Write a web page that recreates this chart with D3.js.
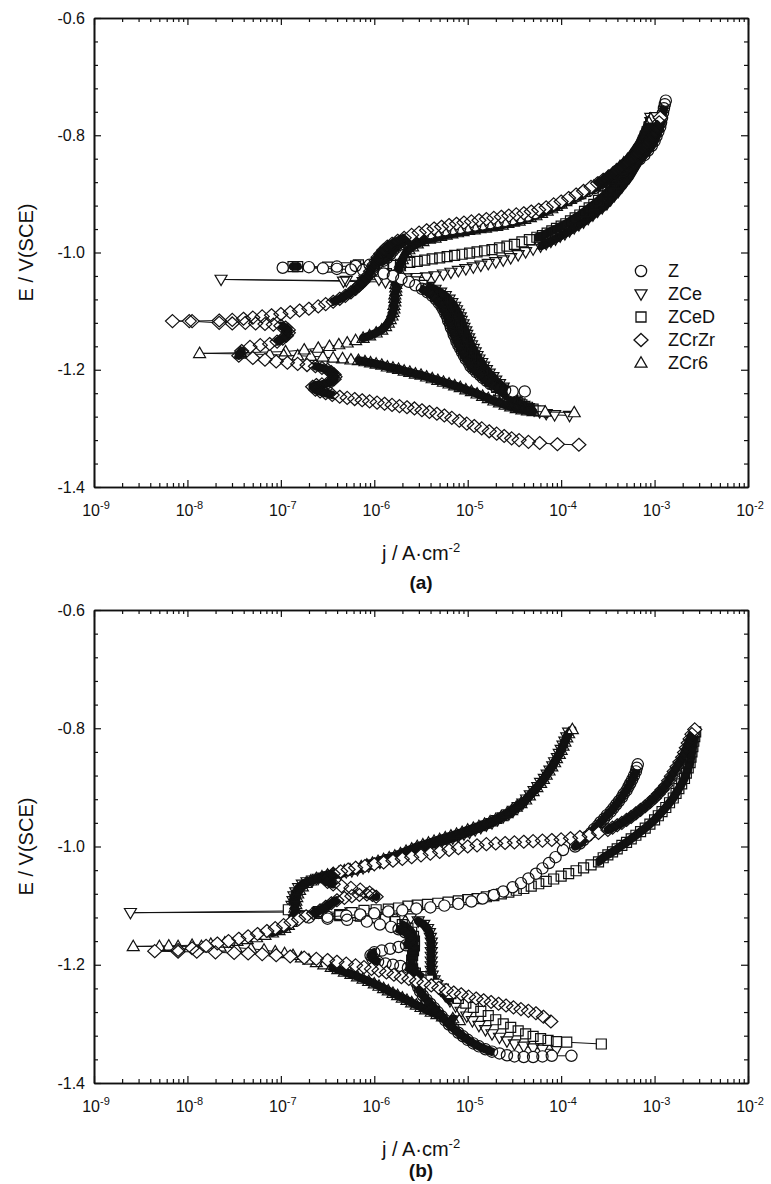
<!DOCTYPE html>
<html>
<head>
<meta charset="utf-8">
<script src="https://cdn.jsdelivr.net/npm/d3@7"></script>
<style>
  body { margin: 0; background: #fff; }
  text { font-family: "Liberation Sans", Arial, sans-serif; fill: #111; }
</style>
</head>
<body>
<svg id="chart" width="771" height="1184"></svg>
<script>
// Potentiodynamic polarization curves, panels (a) and (b).
// Each point is [log10 j (A/cm2), E (V vs SCE)].

const seriesNames = ["Z", "ZCe", "ZCeD", "ZCrZr", "ZCr6"];
const xMajorTicks = [1e-9, 1e-8, 1e-7, 1e-6, 1e-5, 1e-4, 1e-3, 1e-2];
const xTickExponents = ["-9", "-8", "-7", "-6", "-5", "-4", "-3", "-2"];
const yMajorTicks = [-1.4, -1.2, -1.0, -0.8, -0.6];
const yMinorTicks = [-1.36, -1.32, -1.28, -1.24, -1.16, -1.12, -1.08, -1.04,
                     -0.96, -0.92, -0.88, -0.84, -0.76, -0.72, -0.68, -0.64];

// ---- panel (a)
const aZ = [[-4.39,-1.237],[-4.52,-1.237],[-4.6,-1.235],[-4.66,-1.232],[-4.71,-1.228],[-4.76,-1.224],[-4.8,-1.219],
  [-4.84,-1.214],[-4.87,-1.209],[-4.91,-1.204],[-4.94,-1.199],[-4.97,-1.194],[-4.99,-1.188],[-5.02,-1.182],[-5.04,-1.176],
  [-5.06,-1.17],[-5.08,-1.164],[-5.1,-1.158],[-5.12,-1.152],[-5.13,-1.146],[-5.15,-1.14],[-5.16,-1.134],[-5.18,-1.128],
  [-5.19,-1.122],[-5.21,-1.116],[-5.22,-1.11],[-5.24,-1.104],[-5.26,-1.098],[-5.28,-1.092],[-5.31,-1.086],[-5.34,-1.08],
  [-5.38,-1.074],[-5.43,-1.068],[-5.49,-1.062],[-5.56,-1.056],[-5.63,-1.05],[-5.71,-1.045],[-5.8,-1.04],[-5.9,-1.036],
  [-6.02,-1.032],[-6.12,-1.03],[-6.25,-1.029],[-6.4,-1.028],[-6.55,-1.027],[-6.98,-1.026],[-6.7,-1.025],[-6.4,-1.024],
  [-6.2,-1.023],[-6.05,-1.021],[-5.96,-1.018],[-5.9,-1.014],[-5.86,-1.009],[-5.83,-1.003],[-5.8,-0.997],[-5.77,-0.992],
  [-5.73,-0.987],[-5.68,-0.982],[-5.62,-0.977],[-5.55,-0.973],[-5.48,-0.97],[-5.4,-0.967],[-5.32,-0.964],[-5.24,-0.962],
  [-5.16,-0.96],[-5.08,-0.958],[-5.0,-0.956],[-4.92,-0.954],[-4.84,-0.952],[-4.76,-0.95],[-4.68,-0.948],[-4.6,-0.946],
  [-4.52,-0.943],[-4.44,-0.94],[-4.36,-0.937],[-4.28,-0.933],[-4.2,-0.928],[-4.13,-0.924],[-4.06,-0.92],[-3.99,-0.915],
  [-3.92,-0.91],[-3.85,-0.905],[-3.78,-0.9],[-3.71,-0.895],[-3.64,-0.89],[-3.57,-0.885],[-3.51,-0.879],[-3.45,-0.873],
  [-3.39,-0.867],[-3.33,-0.861],[-3.27,-0.855],[-3.21,-0.848],[-3.16,-0.841],[-3.11,-0.834],[-3.07,-0.826],[-3.03,-0.818],
  [-3.0,-0.81],[-2.98,-0.802],[-2.96,-0.794],[-2.94,-0.786],[-2.93,-0.778],[-2.92,-0.77],[-2.91,-0.762],[-2.9,-0.754],
  [-2.89,-0.747],[-2.88,-0.741]];

const aZCe = [[-3.91,-1.278],[-4.07,-1.277],[-4.16,-1.275],[-4.23,-1.272],[-4.29,-1.269],[-4.35,-1.265],[-4.4,-1.261],
  [-4.45,-1.257],[-4.49,-1.252],[-4.53,-1.247],[-4.56,-1.242],[-4.59,-1.236],[-4.62,-1.23],[-4.66,-1.224],[-4.7,-1.218],
  [-4.73,-1.212],[-4.77,-1.206],[-4.8,-1.2],[-4.83,-1.194],[-4.85,-1.188],[-4.88,-1.182],[-4.9,-1.176],[-4.92,-1.17],
  [-4.94,-1.164],[-4.96,-1.158],[-4.98,-1.152],[-4.99,-1.146],[-5.01,-1.14],[-5.02,-1.134],[-5.04,-1.128],[-5.05,-1.122],
  [-5.07,-1.116],[-5.08,-1.11],[-5.1,-1.104],[-5.12,-1.098],[-5.14,-1.092],[-5.17,-1.086],[-5.2,-1.08],[-5.24,-1.074],
  [-5.29,-1.068],[-5.35,-1.063],[-5.42,-1.058],[-5.5,-1.055],[-5.6,-1.052],[-5.72,-1.051],[-5.88,-1.05],[-6.12,-1.05],
  [-6.33,-1.049],[-7.64,-1.046],[-6.3,-1.048],[-6.1,-1.047],[-5.95,-1.046],[-5.8,-1.045],[-5.66,-1.044],[-5.55,-1.043],
  [-5.44,-1.042],[-5.35,-1.04],[-5.26,-1.037],[-5.18,-1.034],[-5.1,-1.031],[-5.02,-1.028],[-4.94,-1.025],[-4.86,-1.022],
  [-4.78,-1.019],[-4.7,-1.016],[-4.62,-1.013],[-4.54,-1.009],[-4.46,-1.004],[-4.38,-0.999],[-4.3,-0.994],[-4.22,-0.989],
  [-4.16,-0.985],[-4.11,-0.981],[-4.06,-0.977],[-4.01,-0.972],[-3.96,-0.968],[-3.91,-0.963],[-3.86,-0.958],[-3.81,-0.953],
  [-3.76,-0.948],[-3.71,-0.942],[-3.66,-0.936],[-3.61,-0.93],[-3.56,-0.924],[-3.51,-0.917],[-3.47,-0.91],[-3.43,-0.903],
  [-3.39,-0.896],[-3.35,-0.888],[-3.31,-0.88],[-3.27,-0.872],[-3.24,-0.864],[-3.21,-0.856],[-3.18,-0.848],[-3.15,-0.84],
  [-3.13,-0.832],[-3.11,-0.824],[-3.09,-0.816],[-3.07,-0.808],[-3.06,-0.8],[-3.05,-0.792],[-3.04,-0.784],[-3.04,-0.777],
  [-3.04,-0.77]];

const aZCeD = [[-4.23,-1.27],[-4.3,-1.267],[-4.36,-1.264],[-4.42,-1.26],[-4.47,-1.256],[-4.52,-1.251],[-4.57,-1.246],
  [-4.61,-1.241],[-4.65,-1.236],[-4.69,-1.23],[-4.73,-1.224],[-4.77,-1.218],[-4.8,-1.212],[-4.84,-1.206],[-4.87,-1.2],
  [-4.9,-1.194],[-4.92,-1.188],[-4.95,-1.182],[-4.97,-1.176],[-4.99,-1.17],[-5.01,-1.164],[-5.03,-1.158],[-5.05,-1.152],
  [-5.06,-1.146],[-5.08,-1.14],[-5.09,-1.134],[-5.11,-1.128],[-5.12,-1.122],[-5.14,-1.116],[-5.15,-1.11],[-5.17,-1.104],
  [-5.19,-1.098],[-5.21,-1.092],[-5.24,-1.086],[-5.27,-1.08],[-5.31,-1.074],[-5.36,-1.068],[-5.42,-1.062],[-5.49,-1.056],
  [-5.57,-1.05],[-5.66,-1.045],[-5.76,-1.04],[-5.87,-1.036],[-6.0,-1.032],[-6.09,-1.028],[-6.17,-1.021],[-6.3,-1.026],
  [-6.82,-1.024],[-6.87,-1.024],[-6.5,-1.025],[-6.2,-1.023],[-6.0,-1.023],[-5.9,-1.022],[-5.8,-1.022],[-5.72,-1.02],
  [-5.62,-1.017],[-5.54,-1.015],[-5.46,-1.013],[-5.38,-1.011],[-5.3,-1.009],[-5.22,-1.007],[-5.14,-1.005],[-5.06,-1.003],
  [-4.98,-1.001],[-4.9,-0.999],[-4.82,-0.997],[-4.74,-0.995],[-4.66,-0.992],[-4.58,-0.989],[-4.5,-0.986],[-4.42,-0.982],
  [-4.34,-0.978],[-4.26,-0.974],[-4.2,-0.971],[-4.15,-0.967],[-4.1,-0.963],[-4.05,-0.959],[-4.0,-0.955],[-3.95,-0.951],
  [-3.9,-0.946],[-3.85,-0.941],[-3.8,-0.936],[-3.75,-0.93],[-3.7,-0.924],[-3.65,-0.918],[-3.6,-0.911],[-3.55,-0.904],
  [-3.5,-0.897],[-3.46,-0.89],[-3.42,-0.882],[-3.38,-0.874],[-3.34,-0.866],[-3.3,-0.858],[-3.26,-0.85],[-3.23,-0.842],
  [-3.2,-0.834],[-3.17,-0.826],[-3.14,-0.818],[-3.12,-0.81],[-3.1,-0.802],[-3.08,-0.794],[-3.06,-0.786],[-3.04,-0.778],
  [-3.0,-0.77]];

const aZCrZr = [[-3.81,-1.328],[-4.04,-1.327],[-4.23,-1.325],[-4.35,-1.323],[-4.45,-1.32],[-4.53,-1.317],[-4.61,-1.313],
  [-4.69,-1.309],[-4.77,-1.305],[-4.85,-1.3],[-4.93,-1.296],[-5.01,-1.292],[-5.09,-1.287],[-5.17,-1.282],[-5.25,-1.278],
  [-5.33,-1.275],[-5.41,-1.272],[-5.49,-1.269],[-5.57,-1.266],[-5.65,-1.264],[-5.73,-1.262],[-5.81,-1.26],[-5.89,-1.258],
  [-5.97,-1.256],[-6.05,-1.254],[-6.13,-1.252],[-6.21,-1.25],[-6.29,-1.248],[-6.37,-1.246],[-6.45,-1.243],[-6.52,-1.24],
  [-6.58,-1.237],[-6.63,-1.234],[-6.66,-1.229],[-6.62,-1.226],[-6.56,-1.225],[-6.5,-1.223],[-6.46,-1.22],[-6.43,-1.216],
  [-6.42,-1.212],[-6.43,-1.208],[-6.46,-1.204],[-6.5,-1.2],[-6.56,-1.197],[-6.63,-1.194],[-6.72,-1.192],[-6.82,-1.19],
  [-6.93,-1.188],[-7.05,-1.186],[-7.17,-1.183],[-7.3,-1.18],[-7.45,-1.176],[-7.42,-1.168],[-7.33,-1.161],[-7.22,-1.158],
  [-7.12,-1.156],[-7.04,-1.152],[-6.98,-1.147],[-6.94,-1.142],[-6.92,-1.137],[-6.92,-1.132],[-6.95,-1.128],[-7.0,-1.125],
  [-7.08,-1.123],[-7.17,-1.122],[-7.27,-1.121],[-7.38,-1.12],[-7.52,-1.121],[-7.66,-1.12],[-7.98,-1.117],[-8.16,-1.117],
  [-7.95,-1.117],[-7.66,-1.116],[-7.52,-1.115],[-7.4,-1.113],[-7.3,-1.111],[-7.2,-1.109],[-7.1,-1.107],[-7.0,-1.105],
  [-6.9,-1.102],[-6.8,-1.099],[-6.7,-1.096],[-6.6,-1.092],[-6.52,-1.088],[-6.44,-1.084],[-6.37,-1.079],[-6.31,-1.074],
  [-6.25,-1.068],[-6.2,-1.062],[-6.16,-1.056],[-6.12,-1.05],[-6.09,-1.044],[-6.06,-1.038],[-6.04,-1.032],[-6.02,-1.026],
  [-6.0,-1.02],[-5.98,-1.014],[-5.96,-1.008],[-5.93,-1.002],[-5.9,-0.996],[-5.86,-0.99],[-5.81,-0.985],[-5.75,-0.98],
  [-5.68,-0.975],[-5.6,-0.97],[-5.52,-0.966],[-5.44,-0.962],[-5.36,-0.959],[-5.28,-0.956],[-5.2,-0.953],[-5.12,-0.951],
  [-5.04,-0.949],[-4.96,-0.947],[-4.88,-0.945],[-4.8,-0.943],[-4.72,-0.941],[-4.64,-0.939],[-4.56,-0.937],[-4.48,-0.935],
  [-4.4,-0.933],[-4.32,-0.93],[-4.24,-0.927],[-4.16,-0.923],[-4.08,-0.918],[-4.0,-0.913],[-3.92,-0.907],[-3.84,-0.901],
  [-3.76,-0.895],[-3.68,-0.888],[-3.61,-0.882],[-3.55,-0.876],[-3.49,-0.87],[-3.43,-0.863],[-3.37,-0.856],[-3.31,-0.849],
  [-3.25,-0.842],[-3.2,-0.834],[-3.15,-0.826],[-3.1,-0.818],[-3.06,-0.81],[-3.02,-0.802],[-2.99,-0.794],[-2.97,-0.786],
  [-2.95,-0.778],[-2.94,-0.77]];

const aZCr6 = [[-3.86,-1.273],[-4.17,-1.272],[-4.3,-1.271],[-4.36,-1.27],[-4.42,-1.268],[-4.48,-1.266],[-4.54,-1.263],
  [-4.6,-1.26],[-4.66,-1.256],[-4.72,-1.253],[-4.78,-1.249],[-4.84,-1.245],[-4.9,-1.241],[-4.96,-1.237],[-5.02,-1.234],
  [-5.08,-1.23],[-5.14,-1.227],[-5.2,-1.224],[-5.26,-1.221],[-5.32,-1.218],[-5.38,-1.215],[-5.44,-1.212],[-5.5,-1.209],
  [-5.56,-1.207],[-5.62,-1.204],[-5.68,-1.202],[-5.74,-1.199],[-5.8,-1.197],[-5.86,-1.195],[-5.92,-1.192],[-5.98,-1.19],
  [-6.04,-1.188],[-6.1,-1.186],[-6.17,-1.184],[-6.25,-1.183],[-6.34,-1.181],[-6.44,-1.18],[-6.55,-1.178],[-6.68,-1.177],
  [-6.82,-1.176],[-6.97,-1.175],[-7.12,-1.174],[-7.43,-1.173],[-7.87,-1.172],[-7.43,-1.171],[-6.95,-1.169],[-6.75,-1.166],
  [-6.6,-1.163],[-6.48,-1.16],[-6.38,-1.157],[-6.29,-1.154],[-6.2,-1.15],[-6.12,-1.146],[-6.05,-1.142],[-5.98,-1.137],
  [-5.92,-1.132],[-5.88,-1.126],[-5.85,-1.12],[-5.83,-1.114],[-5.81,-1.108],[-5.8,-1.102],[-5.79,-1.096],[-5.79,-1.09],
  [-5.78,-1.084],[-5.78,-1.078],[-5.78,-1.072],[-5.77,-1.066],[-5.77,-1.06],[-5.77,-1.054],[-5.76,-1.048],[-5.76,-1.042],
  [-5.75,-1.036],[-5.74,-1.03],[-5.73,-1.024],[-5.72,-1.018],[-5.7,-1.012],[-5.68,-1.006],[-5.66,-1.0],[-5.63,-0.995],
  [-5.59,-0.99],[-5.54,-0.985],[-5.48,-0.981],[-5.41,-0.977],[-5.35,-0.975],[-5.29,-0.972],[-5.23,-0.97],[-5.17,-0.968],
  [-5.11,-0.966],[-5.05,-0.964],[-4.99,-0.962],[-4.93,-0.961],[-4.87,-0.959],[-4.81,-0.958],[-4.75,-0.956],[-4.69,-0.955],
  [-4.63,-0.953],[-4.57,-0.95],[-4.51,-0.948],[-4.45,-0.946],[-4.39,-0.943],[-4.33,-0.94],[-4.27,-0.937],[-4.21,-0.933],
  [-4.15,-0.929],[-4.1,-0.925],[-4.05,-0.921],[-4.0,-0.917],[-3.95,-0.913],[-3.9,-0.909],[-3.85,-0.905],[-3.8,-0.901],
  [-3.75,-0.897],[-3.7,-0.892],[-3.65,-0.887],[-3.6,-0.882],[-3.55,-0.877],[-3.5,-0.871],[-3.45,-0.865],[-3.41,-0.859],
  [-3.37,-0.853],[-3.33,-0.847],[-3.29,-0.841],[-3.25,-0.834],[-3.22,-0.827],[-3.19,-0.82],[-3.16,-0.813],[-3.14,-0.806],
  [-3.12,-0.799],[-3.1,-0.792],[-3.08,-0.785],[-3.06,-0.778],[-3.04,-0.772]];

// ---- panel (b)
const bZ = [[-3.89,-1.354],[-4.1,-1.354],[-4.2,-1.355],[-4.3,-1.356],[-4.4,-1.356],[-4.5,-1.355],[-4.58,-1.353],
  [-4.66,-1.35],[-4.74,-1.347],[-4.81,-1.343],[-4.88,-1.338],[-4.94,-1.333],[-5.0,-1.327],[-5.05,-1.321],[-5.1,-1.315],
  [-5.15,-1.308],[-5.2,-1.301],[-5.24,-1.294],[-5.28,-1.287],[-5.32,-1.28],[-5.36,-1.273],[-5.4,-1.266],[-5.44,-1.259],
  [-5.48,-1.252],[-5.51,-1.245],[-5.53,-1.238],[-5.55,-1.231],[-5.56,-1.224],[-5.56,-1.217],[-5.58,-1.21],[-5.64,-1.205],
  [-5.72,-1.202],[-5.8,-1.2],[-5.88,-1.198],[-5.96,-1.195],[-6.02,-1.19],[-6.04,-1.184],[-6.0,-1.179],[-5.92,-1.176],
  [-5.83,-1.173],[-5.74,-1.17],[-5.66,-1.167],[-5.61,-1.162],[-5.6,-1.156],[-5.62,-1.15],[-5.67,-1.145],[-5.74,-1.14],
  [-5.82,-1.136],[-5.94,-1.132],[-6.08,-1.127],[-6.29,-1.124],[-6.5,-1.122],[-6.7,-1.12],[-6.5,-1.119],[-6.3,-1.117],
  [-6.15,-1.115],[-6.0,-1.113],[-5.85,-1.11],[-5.7,-1.108],[-5.55,-1.105],[-5.4,-1.103],[-5.25,-1.1],[-5.1,-1.097],
  [-4.96,-1.093],[-4.84,-1.088],[-4.72,-1.082],[-4.62,-1.076],[-4.52,-1.069],[-4.43,-1.062],[-4.35,-1.054],[-4.27,-1.046],
  [-4.2,-1.037],[-4.13,-1.028],[-4.06,-1.018],[-3.98,-1.006],[-3.85,-1.0],[-3.8,-0.995],[-3.76,-0.989],[-3.72,-0.983],
  [-3.68,-0.977],[-3.65,-0.971],[-3.61,-0.965],[-3.58,-0.959],[-3.54,-0.953],[-3.51,-0.947],[-3.47,-0.941],[-3.44,-0.935],
  [-3.41,-0.929],[-3.38,-0.923],[-3.35,-0.917],[-3.33,-0.911],[-3.3,-0.905],[-3.28,-0.899],[-3.26,-0.893],[-3.24,-0.887],
  [-3.22,-0.88],[-3.2,-0.873],[-3.19,-0.867],[-3.18,-0.861]];

const bZCe = [[-4.05,-1.343],[-4.2,-1.343],[-4.3,-1.341],[-4.4,-1.338],[-4.5,-1.334],[-4.58,-1.329],[-4.66,-1.323],
  [-4.74,-1.317],[-4.81,-1.31],[-4.88,-1.303],[-4.95,-1.295],[-5.01,-1.287],[-5.07,-1.279],[-5.13,-1.27],[-5.19,-1.261],
  [-5.24,-1.252],[-5.29,-1.243],[-5.33,-1.234],[-5.36,-1.226],[-5.38,-1.218],[-5.39,-1.21],[-5.39,-1.202],[-5.39,-1.194],
  [-5.39,-1.186],[-5.39,-1.178],[-5.39,-1.17],[-5.39,-1.162],[-5.4,-1.154],[-5.41,-1.146],[-5.43,-1.139],[-5.47,-1.132],
  [-5.53,-1.126],[-5.61,-1.121],[-5.71,-1.117],[-5.83,-1.114],[-6.0,-1.112],[-6.25,-1.111],[-6.6,-1.111],[-6.9,-1.111],
  [-8.61,-1.112],[-6.9,-1.109],[-6.88,-1.1],[-6.87,-1.092],[-6.86,-1.084],[-6.84,-1.077],[-6.81,-1.07],[-6.77,-1.064],
  [-6.72,-1.06],[-6.66,-1.057],[-6.6,-1.054],[-6.54,-1.052],[-6.48,-1.05],[-6.42,-1.048],[-6.36,-1.046],[-6.3,-1.043],
  [-6.24,-1.041],[-6.18,-1.039],[-6.12,-1.036],[-6.06,-1.033],[-6.0,-1.03],[-5.94,-1.027],[-5.88,-1.024],[-5.82,-1.021],
  [-5.76,-1.018],[-5.7,-1.015],[-5.64,-1.012],[-5.58,-1.008],[-5.52,-1.004],[-5.46,-1.001],[-5.4,-0.998],[-5.34,-0.995],
  [-5.28,-0.992],[-5.22,-0.989],[-5.16,-0.986],[-5.1,-0.983],[-5.04,-0.979],[-4.98,-0.976],[-4.92,-0.972],[-4.86,-0.968],
  [-4.8,-0.964],[-4.74,-0.96],[-4.68,-0.955],[-4.62,-0.95],[-4.56,-0.945],[-4.51,-0.939],[-4.46,-0.933],[-4.41,-0.927],
  [-4.37,-0.92],[-4.33,-0.913],[-4.29,-0.906],[-4.25,-0.899],[-4.22,-0.892],[-4.18,-0.885],[-4.15,-0.878],[-4.12,-0.871],
  [-4.09,-0.864],[-4.07,-0.857],[-4.04,-0.85],[-4.02,-0.843],[-4.0,-0.836],[-3.98,-0.829],[-3.96,-0.822],[-3.94,-0.815],
  [-3.92,-0.807]];

const bZCeD = [[-3.57,-1.334],[-3.94,-1.331],[-4.05,-1.33],[-4.14,-1.328],[-4.22,-1.325],[-4.3,-1.321],[-4.38,-1.317],
  [-4.46,-1.312],[-4.54,-1.306],[-4.62,-1.3],[-4.7,-1.293],[-4.78,-1.286],[-4.86,-1.279],[-4.94,-1.272],[-5.02,-1.265],
  [-5.1,-1.257],[-5.18,-1.249],[-5.26,-1.241],[-5.34,-1.233],[-5.42,-1.226],[-5.5,-1.22],[-5.56,-1.214],[-5.59,-1.207],
  [-5.6,-1.2],[-5.6,-1.192],[-5.59,-1.184],[-5.58,-1.176],[-5.57,-1.168],[-5.57,-1.16],[-5.58,-1.152],[-5.6,-1.145],
  [-5.64,-1.138],[-5.7,-1.132],[-5.78,-1.127],[-5.88,-1.123],[-6.0,-1.12],[-6.15,-1.118],[-6.37,-1.117],[-6.6,-1.113],
  [-6.92,-1.107],[-6.6,-1.11],[-6.37,-1.115],[-6.24,-1.112],[-6.11,-1.108],[-5.98,-1.107],[-5.85,-1.106],[-5.74,-1.104],
  [-5.64,-1.101],[-5.54,-1.099],[-5.43,-1.098],[-5.32,-1.096],[-5.21,-1.094],[-5.1,-1.092],[-5.0,-1.09],[-4.9,-1.088],
  [-4.8,-1.085],[-4.72,-1.083],[-4.64,-1.08],[-4.56,-1.077],[-4.48,-1.074],[-4.4,-1.071],[-4.32,-1.067],[-4.24,-1.063],
  [-4.16,-1.059],[-4.08,-1.055],[-4.0,-1.05],[-3.92,-1.046],[-3.84,-1.041],[-3.76,-1.036],[-3.68,-1.031],[-3.6,-1.026],
  [-3.55,-1.019],[-3.5,-1.014],[-3.45,-1.009],[-3.4,-1.004],[-3.35,-0.998],[-3.3,-0.993],[-3.25,-0.987],[-3.2,-0.981],
  [-3.15,-0.975],[-3.1,-0.969],[-3.05,-0.962],[-3.0,-0.955],[-2.96,-0.948],[-2.92,-0.941],[-2.88,-0.934],[-2.84,-0.926],
  [-2.8,-0.918],[-2.77,-0.91],[-2.74,-0.902],[-2.71,-0.894],[-2.68,-0.885],[-2.66,-0.876],[-2.64,-0.867],[-2.62,-0.858],
  [-2.61,-0.849],[-2.6,-0.84],[-2.59,-0.831],[-2.58,-0.822],[-2.57,-0.814],[-2.56,-0.806]];

const bZCrZr = [[-4.11,-1.296],[-4.19,-1.288],[-4.27,-1.282],[-4.35,-1.278],[-4.43,-1.275],[-4.51,-1.272],[-4.59,-1.269],
  [-4.67,-1.266],[-4.75,-1.263],[-4.83,-1.26],[-4.91,-1.257],[-4.99,-1.254],[-5.07,-1.25],[-5.15,-1.247],[-5.23,-1.243],
  [-5.31,-1.239],[-5.39,-1.235],[-5.47,-1.231],[-5.55,-1.228],[-5.63,-1.224],[-5.71,-1.221],[-5.79,-1.217],[-5.87,-1.213],
  [-5.95,-1.21],[-6.03,-1.207],[-6.11,-1.204],[-6.2,-1.201],[-6.3,-1.198],[-6.4,-1.195],[-6.5,-1.192],[-6.62,-1.19],
  [-6.75,-1.188],[-6.9,-1.186],[-7.05,-1.184],[-7.2,-1.182],[-7.35,-1.181],[-7.5,-1.18],[-7.7,-1.179],[-7.9,-1.178],
  [-8.1,-1.178],[-8.35,-1.177],[-8.1,-1.175],[-7.95,-1.172],[-7.8,-1.168],[-7.68,-1.164],[-7.56,-1.16],[-7.45,-1.156],
  [-7.35,-1.152],[-7.25,-1.148],[-7.15,-1.143],[-7.06,-1.138],[-6.97,-1.133],[-6.89,-1.128],[-6.81,-1.123],[-6.73,-1.118],
  [-6.65,-1.113],[-6.58,-1.108],[-6.52,-1.102],[-6.46,-1.096],[-6.4,-1.091],[-6.32,-1.087],[-6.24,-1.084],[-6.16,-1.082],
  [-6.08,-1.081],[-6.02,-1.082],[-5.98,-1.085],[-6.05,-1.078],[-6.15,-1.073],[-6.25,-1.07],[-6.35,-1.067],[-6.44,-1.064],
  [-6.5,-1.06],[-6.52,-1.055],[-6.5,-1.05],[-6.44,-1.046],[-6.36,-1.042],[-6.28,-1.039],[-6.2,-1.036],[-6.1,-1.033],
  [-6.0,-1.03],[-5.9,-1.027],[-5.8,-1.024],[-5.7,-1.021],[-5.6,-1.018],[-5.5,-1.015],[-5.4,-1.012],[-5.3,-1.009],
  [-5.2,-1.006],[-5.1,-1.003],[-5.0,-1.0],[-4.9,-0.998],[-4.8,-0.996],[-4.7,-0.995],[-4.6,-0.994],[-4.5,-0.993],
  [-4.4,-0.992],[-4.3,-0.991],[-4.2,-0.99],[-4.1,-0.989],[-4.0,-0.988],[-3.9,-0.986],[-3.8,-0.984],[-3.7,-0.981],
  [-3.6,-0.977],[-3.5,-0.972],[-3.45,-0.968],[-3.4,-0.964],[-3.35,-0.96],[-3.3,-0.955],[-3.25,-0.95],[-3.2,-0.944],
  [-3.15,-0.938],[-3.1,-0.932],[-3.05,-0.925],[-3.0,-0.918],[-2.96,-0.911],[-2.92,-0.904],[-2.88,-0.897],[-2.85,-0.889],
  [-2.82,-0.881],[-2.79,-0.873],[-2.76,-0.865],[-2.73,-0.857],[-2.7,-0.849],[-2.68,-0.841],[-2.66,-0.833],[-2.64,-0.825],
  [-2.62,-0.818],[-2.6,-0.81],[-2.57,-0.802]];

const bZCr6 = [[-5.09,-1.294],[-5.16,-1.291],[-5.27,-1.288],[-5.33,-1.284],[-5.39,-1.28],[-5.45,-1.276],[-5.5,-1.272],
  [-5.55,-1.268],[-5.6,-1.264],[-5.65,-1.26],[-5.7,-1.256],[-5.75,-1.252],[-5.8,-1.248],[-5.85,-1.244],[-5.9,-1.24],
  [-5.95,-1.236],[-6.0,-1.232],[-6.06,-1.228],[-6.12,-1.224],[-6.18,-1.22],[-6.25,-1.216],[-6.32,-1.212],[-6.39,-1.208],
  [-6.46,-1.204],[-6.54,-1.2],[-6.62,-1.196],[-6.7,-1.192],[-6.78,-1.188],[-6.87,-1.184],[-6.96,-1.181],[-7.06,-1.178],
  [-7.18,-1.175],[-7.32,-1.173],[-7.48,-1.171],[-7.65,-1.17],[-7.85,-1.169],[-8.1,-1.169],[-8.3,-1.169],[-8.58,-1.169],
  [-8.2,-1.168],[-7.95,-1.167],[-7.75,-1.165],[-7.6,-1.163],[-7.47,-1.16],[-7.36,-1.157],[-7.26,-1.154],[-7.17,-1.15],
  [-7.09,-1.146],[-7.02,-1.142],[-6.96,-1.138],[-6.92,-1.133],[-6.89,-1.128],[-6.87,-1.122],[-6.86,-1.116],[-6.85,-1.11],
  [-6.85,-1.104],[-6.84,-1.098],[-6.84,-1.092],[-6.83,-1.086],[-6.82,-1.08],[-6.8,-1.074],[-6.77,-1.068],[-6.73,-1.062],
  [-6.68,-1.058],[-6.62,-1.054],[-6.56,-1.051],[-6.5,-1.048],[-6.44,-1.046],[-6.38,-1.044],[-6.32,-1.041],[-6.26,-1.039],
  [-6.2,-1.036],[-6.14,-1.034],[-6.08,-1.031],[-6.02,-1.028],[-5.96,-1.025],[-5.9,-1.022],[-5.84,-1.019],[-5.78,-1.016],
  [-5.72,-1.012],[-5.66,-1.008],[-5.6,-1.004],[-5.54,-1.0],[-5.48,-0.997],[-5.42,-0.994],[-5.36,-0.991],[-5.3,-0.988],
  [-5.24,-0.985],[-5.18,-0.982],[-5.12,-0.979],[-5.06,-0.976],[-5.0,-0.972],[-4.94,-0.969],[-4.88,-0.966],[-4.82,-0.962],
  [-4.76,-0.958],[-4.7,-0.954],[-4.64,-0.949],[-4.58,-0.944],[-4.53,-0.939],[-4.48,-0.933],[-4.43,-0.927],[-4.38,-0.921],
  [-4.34,-0.914],[-4.3,-0.907],[-4.26,-0.9],[-4.22,-0.893],[-4.19,-0.886],[-4.16,-0.879],[-4.13,-0.872],[-4.1,-0.865],
  [-4.07,-0.858],[-4.05,-0.851],[-4.02,-0.844],[-4.0,-0.837],[-3.98,-0.83],[-3.96,-0.823],[-3.94,-0.816],[-3.92,-0.809],
  [-3.88,-0.802]];

// ---- drawing
const svg = d3.select("#chart");
const plotLeft = 94, plotRight = 748;
const bandGap = 7.2;   // markers closer than this (px) merge into a solid band, as in the original plot

const symbols = {
  Z: d3.symbol(d3.symbolCircle, 100)(),
  ZCe: "M-6,-4.2L6,-4.2L0,6.2Z",
  ZCeD: d3.symbol(d3.symbolSquare, 100)(),
  ZCrZr: "M0,-6.5L7,0L0,6.5L-7,0Z",
  ZCr6: "M0,-6.2L6,4.2L-6,4.2Z"
};
const drawOrder = ["ZCe", "ZCeD", "ZCr6", "Z", "ZCrZr"];

const panels = [
  { top: 18, bottom: 487, tag: "(a)", tagY: 589, legend: true,
    series: { Z: aZ, ZCe: aZCe, ZCeD: aZCeD, ZCrZr: aZCrZr, ZCr6: aZCr6 } },
  { top: 610, bottom: 1083, tag: "(b)", tagY: 1177, legend: false,
    series: { Z: bZ, ZCe: bZCe, ZCeD: bZCeD, ZCrZr: bZCrZr, ZCr6: bZCr6 } }
];

panels.forEach(p => {
  const x = d3.scaleLog().domain([1e-9, 1e-2]).range([plotLeft, plotRight]);
  const y = d3.scaleLinear().domain([-1.4, -0.6]).range([p.bottom, p.top]);
  const g = svg.append("g");
  const xMinor = x.ticks().filter(v => !xMajorTicks.some(m => Math.abs(m - v) / m < 1e-6));

  const axes = [
    [d3.axisBottom, `translate(0,${p.bottom})`, x],
    [d3.axisTop, `translate(0,${p.top})`, x],
    [d3.axisLeft, `translate(${plotLeft},0)`, y],
    [d3.axisRight, `translate(${plotRight},0)`, y]
  ];
  axes.forEach(([make, tr, sc]) => {
    const isX = sc === x;
    g.append("g").attr("transform", tr)
      .call(make(sc).tickValues(isX ? xMinor : yMinorTicks).tickSize(-4).tickSizeOuter(0).tickFormat(""));
    g.append("g").attr("transform", tr)
      .call(make(sc).tickValues(isX ? xMajorTicks : yMajorTicks).tickSize(-7).tickSizeOuter(0).tickFormat(""));
  });
  g.selectAll(".domain").attr("stroke", "#111").attr("stroke-width", 1.6);
  g.selectAll(".tick line").attr("stroke", "#111").attr("stroke-width", 1.2);

  // tick labels
  yMajorTicks.forEach(v => {
    g.append("text").attr("x", plotLeft - 9).attr("y", y(v) + 5.5)
      .attr("text-anchor", "end").attr("font-size", 16).text(v.toFixed(1));
  });
  xMajorTicks.forEach((v, i) => {
    const t = g.append("text").attr("x", x(v) + 2).attr("y", p.bottom + 29)
      .attr("text-anchor", "middle").attr("font-size", 16);
    t.append("tspan").text("10");
    t.append("tspan").attr("dy", -7).attr("font-size", 11).text(xTickExponents[i]);
  });

  // axis titles
  const cy = (p.top + p.bottom) / 2;
  g.append("text").attr("transform", `translate(33,${cy}) rotate(-90)`)
    .attr("text-anchor", "middle").attr("font-size", 20).text("E / V(SCE)");
  const xt = g.append("text").attr("x", (plotLeft + plotRight) / 2).attr("y", p.bottom + 73)
    .attr("text-anchor", "middle").attr("font-size", 20);
  xt.append("tspan").text("j / A\u00b7cm");
  xt.append("tspan").attr("dy", -8).attr("font-size", 13).text("-2");
  g.append("text").attr("x", (plotLeft + plotRight) / 2).attr("y", p.tagY)
    .attr("text-anchor", "middle").attr("font-size", 19).attr("font-weight", "bold").text(p.tag);

  // series
  drawOrder.forEach(name => {
    const pts = p.series[name].map(d => [x(Math.pow(10, d[0])), y(d[1])]);
    const last = pts.length - 1;
    const close = pts.slice(1).map((q, i) => Math.hypot(q[0] - pts[i][0], q[1] - pts[i][1]) < bandGap);
    const runs = [];
    close.forEach((c, i) => {
      if (!c) return;
      if (i > 0 && close[i - 1]) runs[runs.length - 1].push(pts[i + 1]);
      else runs.push([pts[i], pts[i + 1]]);
    });
    const showBody = pts.map((_, i) =>
      i === 0 || i === last || !((i > 0 && close[i - 1]) || (i < close.length && close[i])));
    const sg = g.append("g");
    sg.append("path").attr("d", d3.line()(pts))
      .attr("fill", "none").attr("stroke", "#111").attr("stroke-width", 1);
    sg.selectAll("path.band").data(runs).join("path").attr("class", "band")
      .attr("d", d3.line())
      .attr("fill", "none").attr("stroke", "#111").attr("stroke-width", 8.5)
      .attr("stroke-linecap", "round").attr("stroke-linejoin", "round");
    sg.selectAll("path.body").data(pts.filter((_, i) => showBody[i])).join("path").attr("class", "body")
      .attr("d", symbols[name])
      .attr("transform", d => `translate(${d[0]},${d[1]})`)
      .attr("fill", "#fff").attr("stroke", "none");
    sg.selectAll("path.edge").data(pts).join("path").attr("class", "edge")
      .attr("d", symbols[name])
      .attr("transform", d => `translate(${d[0]},${d[1]})`)
      .attr("fill", "none").attr("stroke", "#111").attr("stroke-width", 1.2);
  });

  if (p.legend) {
    seriesNames.forEach((name, i) => {
      const ly = 271 + i * 23;
      g.append("path").attr("d", symbols[name]).attr("transform", `translate(641,${ly})`)
        .attr("fill", "#fff").attr("stroke", "#111").attr("stroke-width", 1.3);
      g.append("text").attr("x", 668).attr("y", ly + 6).attr("font-size", 18).text(name);
    });
  }
});
</script>
</body>
</html>
